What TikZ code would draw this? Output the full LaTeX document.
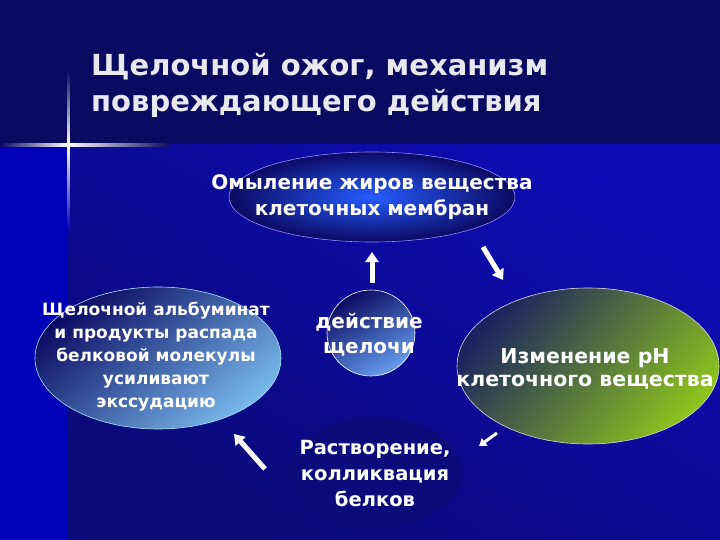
\documentclass[tikz,border=0pt]{standalone}
\usepackage{fontspec}
\setmainfont{DejaVu Sans}
\usetikzlibrary{arrows.meta,shapes.geometric}
\definecolor{slidenavy}{HTML}{0A0A62}
\definecolor{slideblue}{HTML}{0C0CB4}
\definecolor{slidedeep}{HTML}{0A0A78}
\definecolor{slidebright}{HTML}{0000B8}
\definecolor{titlegrey}{HTML}{E8E8EE}
\definecolor{skyblue}{RGB}{120,185,235}
\definecolor{slatenavy}{RGB}{25,35,95}
\definecolor{slatemid}{RGB}{65,95,100}
\definecolor{limegreen}{RGB}{140,195,30}
\begin{document}
\begin{tikzpicture}[x=1pt,y=-1pt]
\tikzset{blob/.style={ellipse, inner sep=0pt, line width=0.6pt},
         blobtext/.style 2 args={text=white, font=\bfseries\fontsize{#1}{#2}\selectfont, align=center},
         blockarrow/.style={white, line width=5pt, -{Triangle[width=13pt,length=10pt]}}}
\fill[slidenavy] (0,0) rectangle (720,540);
\shade[top color=slideblue, bottom color=slidedeep, shading angle=-30] (68,145) rectangle (720,540);
\fill[slidebright] (0,145) rectangle (68,540);
\shade[left color=slidenavy, right color=white] (0,144) rectangle (68,146.5);
\shade[left color=white, right color=slidenavy] (68,144) rectangle (170,146.5);
\shade[top color=slidenavy, bottom color=white] (67,70) rectangle (69.5,145);
\shade[top color=white, bottom color=slidebright] (67,145) rectangle (69.5,230);
\node[anchor=north west, text=titlegrey, font=\bfseries\fontsize{29}{36}\selectfont, align=left, inner sep=0pt]
  (title) at (91,53) {Щелочной ожог, механизм\\повреждающего действия};
\node[blob, minimum width=286pt, minimum height=90pt, draw=blue!45!white,
      inner color=blue!75!cyan!85!white, outer color=slidenavy] (soap) at (372,197) {};
\node[blob, minimum width=246pt, minimum height=142pt, draw=cyan!35!white,
      top color=slidenavy, bottom color=skyblue, shading angle=40] (albumin) at (158,358) {};
\node[blob, minimum width=88pt, minimum height=86pt, draw=white,
      top color=slidenavy, bottom color=skyblue!85!blue, shading angle=30] (alkali) at (371,333) {};
\node[blob, minimum width=262pt, minimum height=156pt, draw=white!70!gray,
      top color=slatenavy, middle color=slatemid, bottom color=limegreen, shading angle=50] (ph) at (588,366) {};
\node[blob, minimum width=175pt, minimum height=110pt, fill=slidenavy!70!slideblue] (dissolve) at (375,472) {};
\node[blobtext={20}{26}] (soaptext) at (soap) {Омыление жиров вещества\\клеточных мембран};
\node[blobtext={17}{23}] (albumintext) at (156,357) {Щелочной альбуминат\\и продукты распада\\белковой молекулы\\усиливают\\экссудацию};
\node[blobtext={20}{25}] (alkalitext) at (369,335) {действие\\щелочи};
\node[blobtext={20.5}{23}] (phtext) at (585,369) {Изменение рН\\клеточного вещества};
\node[blobtext={19.5}{26}] (dissolvetext) at (375,474) {Растворение,\\колликвация\\белков};
\coordinate (upfrom) at (372,283);
\coordinate (upto) at (372,252);
\coordinate (rightfrom) at (483,247);
\coordinate (rightto) at (503,280);
\coordinate (downfrom) at (497,433);
\coordinate (downto) at (479,446);
\coordinate (leftfrom) at (265,469);
\coordinate (leftto) at (234,434);
\draw[blockarrow] (upfrom) -- (upto);
\draw[blockarrow] (rightfrom) -- (rightto);
\draw[blockarrow, line width=3pt, -{Triangle[width=9pt,length=7pt]}] (downfrom) -- (downto);
\draw[blockarrow] (leftfrom) -- (leftto);
\end{tikzpicture}
\end{document}
